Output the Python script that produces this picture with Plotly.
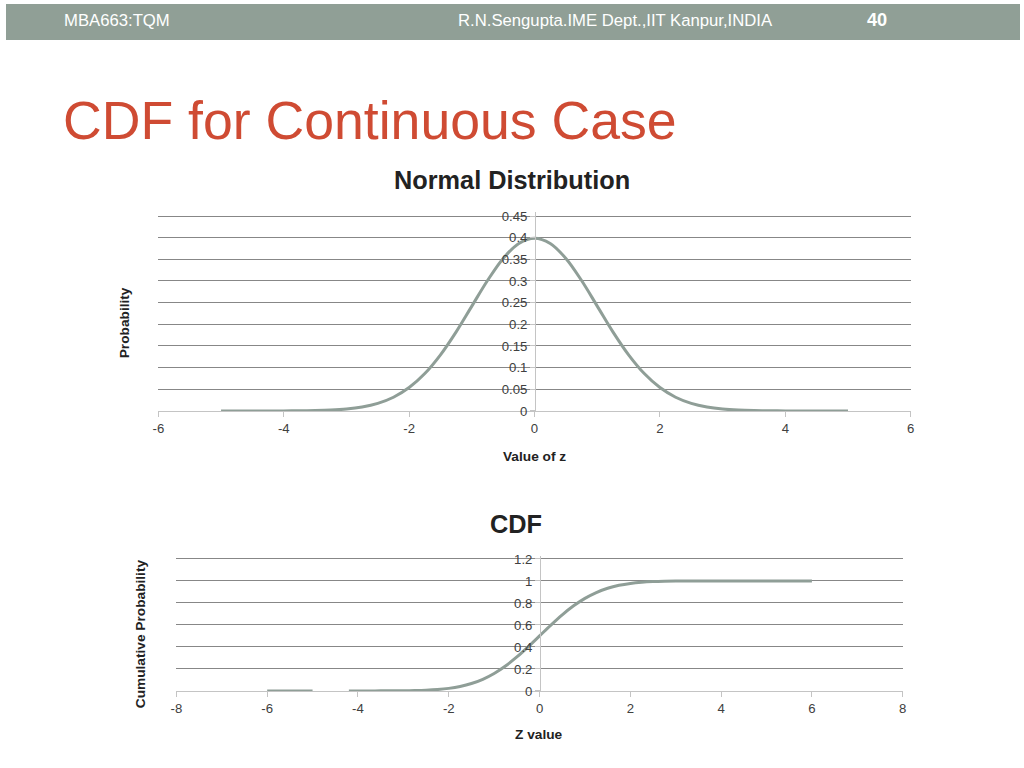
import plotly.graph_objects as go

# values
z_pdf = [-5, -4.75, -4.5, -4.25, -4, -3.75, -3.5, -3.25, -3, -2.75, -2.5, -2.25, -2, -1.75,
         -1.5, -1.25, -1, -0.75, -0.5, -0.25, 0, 0.25, 0.5, 0.75, 1, 1.25, 1.5, 1.75, 2,
         2.25, 2.5, 2.75, 3, 3.25, 3.5, 3.75, 4, 4.25, 4.5, 4.75, 5]
pdf = [0.0, 0.0, 0.0, 0.0, 0.0001, 0.0004, 0.0009, 0.002, 0.0044, 0.0091, 0.0175, 0.0317,
       0.054, 0.0863, 0.1295, 0.1826, 0.242, 0.3011, 0.3521, 0.3867, 0.3989, 0.3867, 0.3521,
       0.3011, 0.242, 0.1826, 0.1295, 0.0863, 0.054, 0.0317, 0.0175, 0.0091, 0.0044, 0.002,
       0.0009, 0.0004, 0.0001, 0.0, 0.0, 0.0, 0.0]

# CDF has a short piece at the far left, then a gap
z_cdf = [-6, -5.5, -5, None, -4.2, -4, -3.75, -3.5, -3.25, -3, -2.75, -2.5, -2.25, -2, -1.75,
         -1.5, -1.25, -1, -0.75, -0.5, -0.25, 0, 0.25, 0.5, 0.75, 1, 1.25, 1.5, 1.75, 2,
         2.25, 2.5, 2.75, 3, 3.25, 3.5, 3.75, 4, 4.5, 5, 5.5, 6]
cdf = [0.0, 0.0, 0.0, None, 0.0, 0.0, 0.0001, 0.0002, 0.0006, 0.0013, 0.003, 0.0062, 0.0122,
       0.0228, 0.0401, 0.0668, 0.1056, 0.1587, 0.2266, 0.3085, 0.4013, 0.5, 0.5987, 0.6915,
       0.7734, 0.8413, 0.8944, 0.9332, 0.9599, 0.9772, 0.9878, 0.9938, 0.997, 0.9987, 0.9994,
       0.9998, 0.9999, 1.0, 1.0, 1.0, 1.0, 1.0]

pdf_xticks = [-6, -4, -2, 0, 2, 4, 6]
pdf_xlabels = ['-6', '-4', '-2', '0', '2', '4', '6']
pdf_yticks = [0, 0.05, 0.1, 0.15, 0.2, 0.25, 0.3, 0.35, 0.4, 0.45]
pdf_ylabels = ['0', '0.05', '0.1', '0.15', '0.2', '0.25', '0.3', '0.35', '0.4', '0.45']
cdf_xticks = [-8, -6, -4, -2, 0, 2, 4, 6, 8]
cdf_xlabels = ['-8', '-6', '-4', '-2', '0', '2', '4', '6', '8']
cdf_yticks = [0, 0.2, 0.4, 0.6, 0.8, 1, 1.2]
cdf_ylabels = ['0', '0.2', '0.4', '0.6', '0.8', '1', '1.2']

# the photo has a small frame round the page and is shrunk back to 1024x768,
# so slide positions are mapped through that before they go into paper coords
W, H = 1024, 768
LEFT, TOP = 6, 4
SX = (W + 12) / W
SY = (H + 12) / H
FONT = 'Liberation Sans, Arial, sans-serif'
HEADER = '#909f96'
LINE = '#8f9e97'
GRID = '#878787'
AXIS = '#c4c4c4'
TICK = '#404040'


def px(x):
    return (x * SX - LEFT) / W


def py(y):
    return 1 - (y * SY - TOP) / H


def fs(size):
    return round(size * SX, 1)


fig = go.Figure()
fig.add_trace(go.Scatter(x=z_pdf, y=pdf, mode='lines', line=dict(color=LINE, width=3, shape='spline'),
                         xaxis='x', yaxis='y', showlegend=False, hoverinfo='skip'))
fig.add_trace(go.Scatter(x=z_cdf, y=cdf, mode='lines', line=dict(color=LINE, width=3, shape='spline'),
                         connectgaps=False, xaxis='x2', yaxis='y2', showlegend=False, hoverinfo='skip'))


def xax(domain, rng, ticks, labels, anchor):
    return dict(domain=domain, range=rng, tickvals=ticks, ticktext=labels, anchor=anchor,
                showgrid=False, zeroline=False,
                showline=True, linecolor=AXIS, linewidth=1, ticks='outside', ticklen=5,
                tickcolor=AXIS, tickfont=dict(size=fs(13), color=TICK, family=FONT), fixedrange=True)


def yax(domain, rng, ticks, labels, pos):
    # y axis sits at z = 0, grid runs across the whole plot
    return dict(domain=domain, range=rng, tickvals=ticks, ticktext=labels, anchor='free',
                position=pos, showgrid=True, gridcolor=GRID, gridwidth=1,
                zeroline=True, zerolinecolor=AXIS, zerolinewidth=1,
                showline=True, linecolor=AXIS, linewidth=1, ticks='outside', ticklen=5,
                tickcolor=AXIS, tickfont=dict(size=fs(13), color=TICK, family=FONT), fixedrange=True)


# range tops a little above the last tick so its grid line is still drawn
pdf_top = 0.46
cdf_top = 1.23
fig.update_layout(
    width=W, height=H,
    margin=dict(l=0, r=0, t=0, b=0),
    paper_bgcolor='white', plot_bgcolor='white',
    font=dict(family=FONT),
    xaxis=xax([px(158), px(909)], [-6, 6], pdf_xticks, pdf_xlabels, 'y'),
    yaxis=yax([py(411), py(411 - pdf_top * 195 / 0.45)], [0, pdf_top], pdf_yticks, pdf_ylabels, px(534)),
    xaxis2=xax([px(176), px(901)], [-8, 8], cdf_xticks, cdf_xlabels, 'y2'),
    yaxis2=yax([py(691), py(691 - cdf_top * 132 / 1.2)], [0, cdf_top], cdf_yticks, cdf_ylabels, px(539)),
)

# header bar of the slide
fig.add_shape(type='rect', xref='paper', yref='paper', x0=0, x1=1, y0=py(40), y1=1,
              fillcolor=HEADER, line_width=0, layer='below')


def note(text, x, y, size, color='#222222', bold=False, xanchor='center', angle=0):
    if bold:
        text = '<b>' + text + '</b>'
    fig.add_annotation(text=text, x=px(x), y=py(y), xref='paper', yref='paper',
                       xanchor=xanchor, yanchor='middle', showarrow=False, textangle=angle,
                       font=dict(size=fs(size), color=color, family=FONT))


note('MBA663:TQM', 62, 20, 16.5, color='white', xanchor='left')
note('R.N.Sengupta.IME Dept.,IIT Kanpur,INDIA', 455, 20, 16.5, color='white', xanchor='left')
note('40', 875, 20, 18, color='white', bold=True)
note('CDF for Continuous Case', 61, 120, 53, color='#cf4b33', xanchor='left')

note('Normal Distribution', 511, 180, 25, bold=True)
note('Value of z', 533, 457, 13.5, bold=True)
note('Probability', 125, 323, 13.5, bold=True, angle=-90)

note('CDF', 515, 524, 25, bold=True)
note('Z value', 538, 735, 13.5, bold=True)
note('Cumulative Probability', 141, 634, 13.5, bold=True, angle=-90)

# page background beyond the figure: header colour next to the bar, white elsewhere
bar_h = round(40 * SY - TOP) + TOP
page_css = ("document.body.style.margin='0';"
            "var r=document.documentElement.style;"
            "r.backgroundColor='white';"
            "r.backgroundImage='linear-gradient(to bottom, " + HEADER + " 0px, " + HEADER + " "
            + str(bar_h) + "px, white " + str(bar_h) + "px)';"
            "r.backgroundSize='100% 900px';"
            "r.backgroundPosition='0 -" + str(TOP) + "px';"
            "r.backgroundRepeat='repeat';")
fig.write_html('out.html', config={'displayModeBar': False}, post_script=page_css)
